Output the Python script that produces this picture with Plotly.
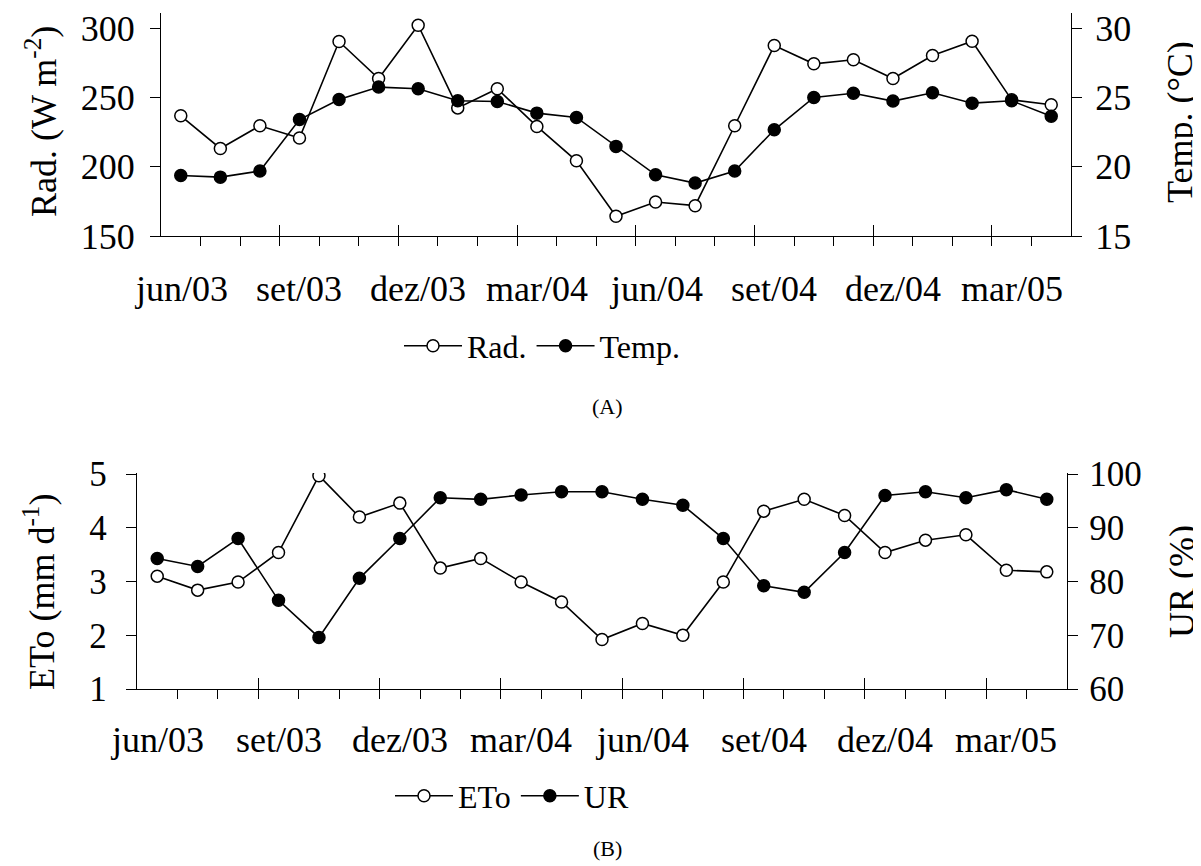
import plotly.graph_objects as go

months = ["jun/03", "jul/03", "ago/03", "set/03", "out/03", "nov/03", "dez/03", "jan/04",
          "fev/04", "mar/04", "abr/04", "mai/04", "jun/04", "jul/04", "ago/04", "set/04",
          "out/04", "nov/04", "dez/04", "jan/05", "fev/05", "mar/05", "abr/05"]
label_months = ["jun/03", "set/03", "dez/03", "mar/04", "jun/04", "set/04", "dez/04", "mar/05"]

rad = [236.8, 213.2, 229.6, 220.7, 290.4, 263.7, 302.2, 242.5, 256.3, 229.1, 204.3, 164.2,
       174.5, 171.9, 229.6, 287.5, 274.3, 277.2, 263.7, 280.3, 290.6, 248.3, 244.7]
temp = [19.37, 19.25, 19.69, 23.41, 24.86, 25.75, 25.63, 24.76, 24.71, 23.87, 23.56, 21.47,
        19.42, 18.82, 19.69, 22.67, 25.0, 25.31, 24.74, 25.34, 24.59, 24.76, 23.65]
eto = [3.10, 2.84, 2.99, 3.54, 4.97, 4.20, 4.46, 3.25, 3.43, 2.99, 2.62, 1.92,
       2.22, 2.00, 2.99, 4.31, 4.53, 4.23, 3.54, 3.77, 3.87, 3.21, 3.18]
ur = [84.3, 82.8, 88.0, 76.5, 69.6, 80.6, 88.0, 95.6, 95.3, 96.1, 96.7, 96.7,
      95.3, 94.2, 88.0, 79.2, 78.0, 85.4, 96.0, 96.7, 95.6, 97.1, 95.3]

# the page body adds an 8 px offset; the figure fills the rest of the window
OFF = 8
W, H = 1201 - OFF, 866 - OFF
FONT = "Liberation Serif"
TICK_A = 36
TICK_B = 35
XTICK = 36
TITLE = 36
LEG = 32

xi = list(range(len(months)))
label_pos = [months.index(m) for m in label_months]
major_bounds = [k - 0.5 for k in range(3, len(months), 3)]
minor_bounds = [k - 0.5 + (1e-6 if (k - 0.5) in major_bounds else 0) for k in range(len(months) + 1)]


def px_x(p):
    return (p - OFF) / W


def px_y(p):
    return 1 - (p - OFF) / H


open_marker = dict(symbol="circle", size=12, color="white", line=dict(color="black", width=1.5))
fill_marker = dict(symbol="circle", size=12, color="black", line=dict(color="black", width=1.5))
line_style = dict(color="black", width=1.6)

fig = go.Figure()
fig.add_trace(go.Scatter(x=xi, y=rad, name="Rad.", mode="lines+markers", line=line_style,
                         marker=open_marker, xaxis="x", yaxis="y", legend="legend"))
fig.add_trace(go.Scatter(x=xi, y=temp, name="Temp.", mode="lines+markers", line=line_style,
                         marker=fill_marker, xaxis="x", yaxis="y2", legend="legend"))
fig.add_trace(go.Scatter(x=xi, y=eto, name="ETo", mode="lines+markers", line=line_style,
                         marker=open_marker, xaxis="x2", yaxis="y3", legend="legend2"))
fig.add_trace(go.Scatter(x=xi, y=ur, name="UR", mode="lines+markers", line=line_style,
                         marker=fill_marker, xaxis="x2", yaxis="y4", legend="legend2"))

xr = [-0.5, len(months) - 0.5]
domA_x = [px_x(161), px_x(1071)]
domB_x = [px_x(137), px_x(1067)]
domA_y = [px_y(236), px_y(13)]
domB_y = [px_y(689), px_y(473)]


def main_x(domain, anchor):
    return dict(domain=domain, anchor=anchor, range=xr, showgrid=False, zeroline=False,
                automargin=False, showline=True, linecolor="black", linewidth=1.3,
                tickmode="array", tickvals=major_bounds, ticks="inside", ticklen=11,
                tickcolor="black", tickwidth=1.3, showticklabels=False,
                minor=dict(tickmode="array", tickvals=minor_bounds, ticks="outside", ticklen=9,
                           tickcolor="black", tickwidth=1.3, showgrid=False))


def y_axis(domain, anchor, rng, tv, size, standoff, side="left", over=None):
    d = dict(domain=domain, anchor=anchor, range=rng, showgrid=False, zeroline=False,
             automargin=False, showline=True, linecolor="black", linewidth=1.3, side=side,
             tickmode="array", tickvals=tv, ticks="outside", ticklen=10,
             tickcolor="black", tickwidth=1.3, ticklabelstandoff=standoff,
             tickfont=dict(family=FONT, size=size, color="black"))
    if over:
        d["overlaying"] = over
    return d


annotations = []
# month labels under the category axes
for xa, ylab in (("x", 289), ("x2", 740)):
    for pos, lab in zip(label_pos, label_months):
        annotations.append(dict(text=lab, x=pos, xref=xa, y=px_y(ylab), yref="paper",
                                xanchor="center", yanchor="middle", showarrow=False,
                                font=dict(family=FONT, size=XTICK, color="black")))
# axis titles
for text, xp, yp in (("Rad. (W m<sup>-2</sup>)", 41, 122), ("Temp. (°C)", 1180, 122),
                     ("ETo (mm d<sup>-1</sup>)", 39, 592), ("UR (%)", 1182, 582)):
    annotations.append(dict(text=text, x=px_x(xp), y=px_y(yp), xref="paper", yref="paper",
                            textangle=-90, xanchor="center", yanchor="middle", showarrow=False,
                            font=dict(family=FONT, size=TITLE, color="black")))
# panel labels
for text, xp, yp in (("(A)", 607, 407), ("(B)", 607, 848)):
    annotations.append(dict(text=text, x=px_x(xp), y=px_y(yp), xref="paper", yref="paper",
                            xanchor="center", yanchor="middle", showarrow=False,
                            font=dict(family=FONT, size=22, color="black")))

fig.update_layout(
    width=W, height=H, margin=dict(l=0, r=0, t=0, b=0, pad=0),
    paper_bgcolor="white", plot_bgcolor="rgba(0,0,0,0)",
    font=dict(family=FONT, color="black"),
    xaxis=main_x(domA_x, "y"),
    xaxis2=main_x(domB_x, "y3"),
    yaxis=y_axis(domA_y, "x", [150, 311], [150, 200, 250, 300], TICK_A, 8),
    yaxis2=y_axis(domA_y, "x", [15, 31.1], [15, 20, 25, 30], TICK_A, 6, side="right", over="y"),
    yaxis3=y_axis(domB_y, "x2", [1, 5.02], [1, 2, 3, 4, 5], TICK_B, 12),
    yaxis4=y_axis(domB_y, "x2", [60, 100.2], [60, 70, 80, 90, 100], TICK_B, 4, side="right", over="y3"),
    legend=dict(orientation="h", x=px_x(542), y=px_y(346), xanchor="center", yanchor="middle",
                font=dict(family=FONT, size=LEG, color="black"), itemwidth=58,
                bgcolor="rgba(0,0,0,0)", tracegroupgap=0),
    legend2=dict(orientation="h", x=px_x(512), y=px_y(796), xanchor="center", yanchor="middle",
                 font=dict(family=FONT, size=LEG, color="black"), itemwidth=58,
                 bgcolor="rgba(0,0,0,0)", tracegroupgap=0),
    showlegend=True,
    annotations=annotations,
)

fig.write_html("out.html")
